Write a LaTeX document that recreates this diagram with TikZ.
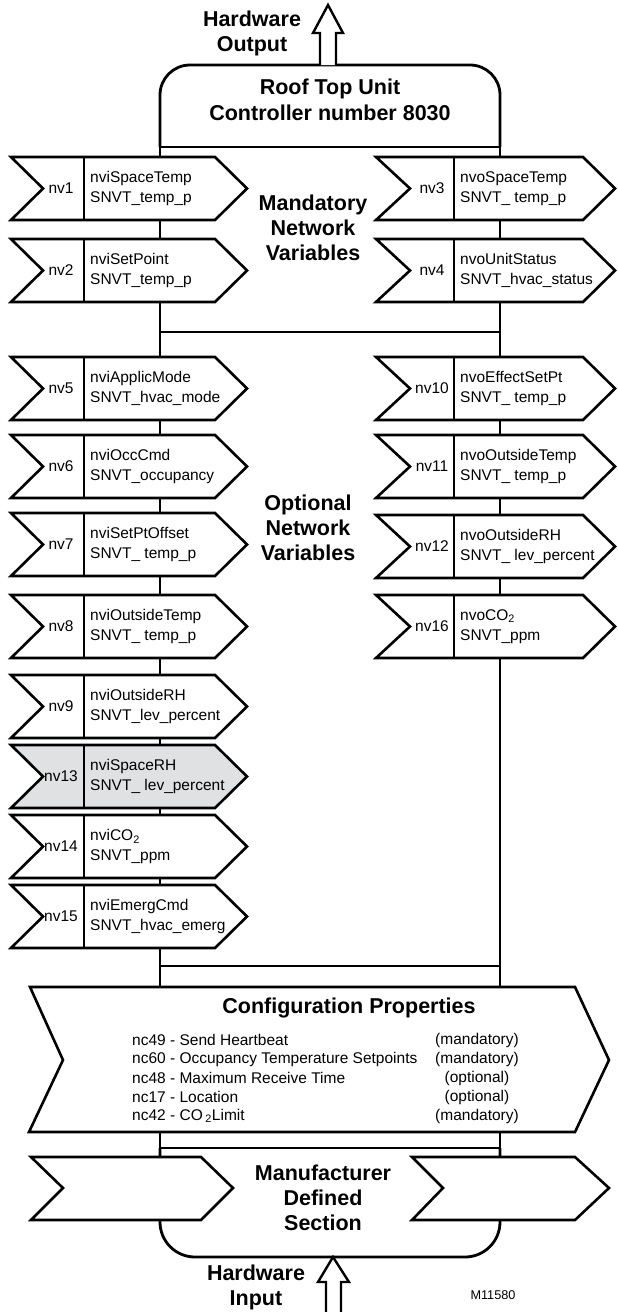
\documentclass[tikz,border=0pt]{standalone}
\usepackage{fontspec}
\setmainfont{Liberation Sans}
\usepackage{tikz}
\definecolor{shade}{RGB}{224,225,227}
\tikzset{chev/.style = {draw, line width = 2.6, line join = miter, fill = white},
         divider/.style = {line width = 1.8},
         bus/.style = {line width = 2.8},
         big/.style = {font = \bfseries\fontsize{21.5}{25}\selectfont, align = center},
         small/.style = {font = \fontsize{15.5}{20}\selectfont, inner sep = 0}}

\begin{document}
\begin{tikzpicture}[x = 1pt, y = -1pt]
    \useasboundingbox (0, 0) rectangle (618, 1312);

    % controller outline and its bus
    \draw [bus, rounded corners = 30] (160, 147) -- (160, 65) -- (500, 65) -- (500, 147);
    \draw [bus] (160, 147) -- (160, 1148);
    \draw [bus] (500, 147) -- (500, 1148);
    \draw [bus, rounded corners = 35] (160, 1148) -- (160, 1257) -- (500, 1257) -- (500, 1148);
    \foreach \ty in {147, 332, 966, 1148}
        \draw [bus] (160, \ty) -- (500, \ty);

    \draw [line width = 2.4, fill = white] (320, 65) -- (320, 33) -- (313, 33) -- (328, 5)
    -- (343, 33) -- (336, 33) -- (336, 65);
    \draw [line width = 2.4, fill = white] (326, 1316) -- (326, 1282) -- (318, 1282) -- (333, 1257)
    -- (349, 1282) -- (341, 1282) -- (341, 1316);

    \node [big] (hwout) at (252, 33) {Hardware\\Output};
    \node [big] (hwin) at (256, 1287) {Hardware\\Input};
    \node [big, font = \bfseries\fontsize{21.5}{26}\selectfont] (rtu) at (330, 100) {Roof Top Unit\\Controller number 8030};
    \node [big] (mand) at (313, 228) {Mandatory\\Network\\Variables};
    \node [big] (opt) at (308, 528) {Optional\\Network\\Variables};

    % input variables
    \foreach \ty/\nm/\va/\vb/\fc in {157/nv1/nviSpaceTemp/SNVT\_temp\_p/white,
        239/nv2/nviSetPoint/SNVT\_temp\_p/white,
        357/nv5/nviApplicMode/SNVT\_hvac\_mode/white,
        435/nv6/nviOccCmd/SNVT\_occupancy/white,
        513/nv7/nviSetPtOffset/SNVT\_ temp\_p/white,
        595/nv8/nviOutsideTemp/SNVT\_ temp\_p/white,
        675/nv9/nviOutsideRH/SNVT\_lev\_percent/white,
        745/nv13/nviSpaceRH/SNVT\_ lev\_percent/shade,
        815/nv14/nviCO\textsubscript{2}/SNVT\_ppm/white,
        885/nv15/nviEmergCmd/SNVT\_hvac\_emerg/white}
    {
        \draw [chev, fill = \fc] (11, \ty) -- (215, \ty) -- (247, \ty + 31.5) -- (215, \ty + 63)
        -- (11, \ty + 63) -- (43, \ty + 31.5) -- cycle;
        \draw [divider] (84, \ty) -- (84, \ty + 63);
        \node [small] (\nm) at (61, \ty + 31.5) {\nm};
        \node [small, anchor = west, align = left] (\nm-var) at (90, \ty + 31.5) {\va\\\vb};
    }

    % output variables
    \foreach \ty/\nm/\va/\vb in {157/nv3/nvoSpaceTemp/SNVT\_ temp\_p,
        239/nv4/nvoUnitStatus/SNVT\_hvac\_status,
        357/nv10/nvoEffectSetPt/SNVT\_ temp\_p,
        435/nv11/nvoOutsideTemp/SNVT\_ temp\_p,
        515/nv12/nvoOutsideRH/SNVT\_ lev\_percent,
        595/nv16/nvoCO\textsubscript{2}/SNVT\_ppm}
    {
        \draw [chev] (376, \ty) -- (583, \ty) -- (615, \ty + 31.5) -- (583, \ty + 63)
        -- (376, \ty + 63) -- (410, \ty + 31.5) -- cycle;
        \draw [divider] (454, \ty) -- (454, \ty + 63);
        \node [small] (\nm) at (432, \ty + 31.5) {\nm};
        \node [small, anchor = west, align = left] (\nm-var) at (460, \ty + 31.5) {\va\\\vb};
    }

    % configuration properties
    \draw [chev] (30, 987) -- (575, 987) -- (609, 1060) -- (575, 1132) -- (29, 1132) -- (63, 1060) -- cycle;
    \node [big] (conf) at (349, 1008) {Configuration Properties};
    \foreach \ty/\prop/\kind in {1040/nc49 - Send Heartbeat/(mandatory),
        1059/nc60 - Occupancy Temperature Setpoints/(mandatory),
        1078/nc48 - Maximum Receive Time/(optional),
        1097/nc17 - Location/(optional),
        1116/nc42 - CO\,\textsubscript{2}Limit/(mandatory)}
    {
        \node [small, anchor = west] (prop\ty) at (132, \ty) {\prop};
        \node [small] (kind\ty) at (477, \ty) {\kind};
    }

    % manufacturer section
    \draw [chev] (31, 1157) -- (201, 1157) -- (233, 1188) -- (201, 1220) -- (31, 1220) -- (63, 1188) -- cycle;
    \draw [chev] (412, 1157) -- (575, 1157) -- (609, 1188) -- (575, 1220) -- (412, 1220) -- (443, 1188) -- cycle;
    \node [big] (mfr) at (323, 1198) {Manufacturer\\Defined\\Section};

    \node [font = \fontsize{12.7}{14}\selectfont] (fig) at (493, 1295) {M11580};
\end{tikzpicture}
\end{document}
